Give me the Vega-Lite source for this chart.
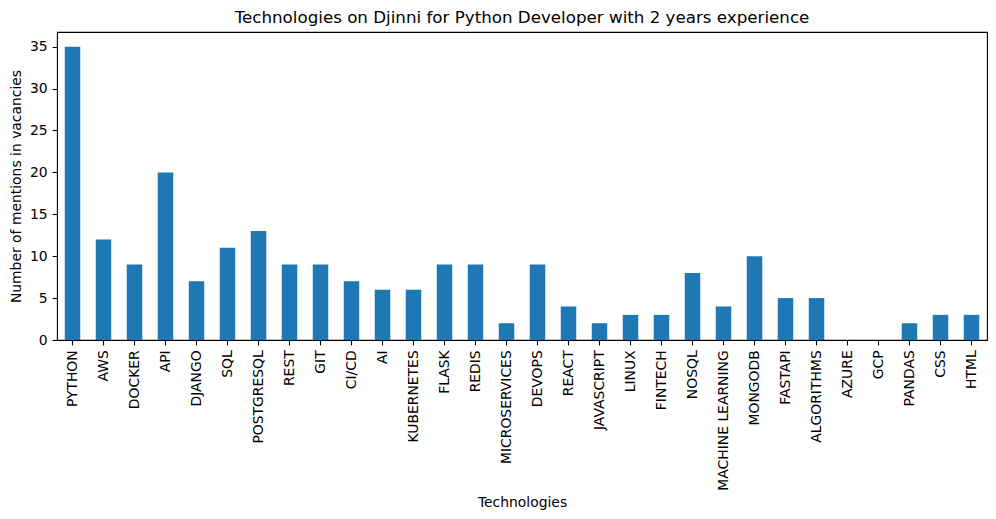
{
  "$schema": "https://vega.github.io/schema/vega-lite/v6.json",
  "autosize": "none",
  "padding": {"left": 57, "top": 32, "right": 9, "bottom": 179},
  "width": 930,
  "height": 308,
  "background": "white",
  "title": {
    "text": "Technologies on Djinni for Python Developer with 2 years experience",
    "font": "DejaVu Sans",
    "fontSize": 16.7,
    "fontWeight": "normal",
    "color": "black",
    "anchor": "middle",
    "offset": 5
  },
  "config": {
    "view": {"stroke": "black", "strokeWidth": 1.1},
    "axis": {
      "labelFont": "DejaVu Sans",
      "labelFontSize": 13.9,
      "labelColor": "black",
      "titleFont": "DejaVu Sans",
      "titleFontSize": 13.9,
      "titleFontWeight": "normal",
      "titleColor": "black",
      "tickColor": "black",
      "tickWidth": 1.1,
      "tickSize": 4.9,
      "labelPadding": 4.9,
      "domain": false,
      "grid": false
    }
  },
  "data": {
    "values": [
      {"tech": "PYTHON", "count": 35},
      {"tech": "AWS", "count": 12},
      {"tech": "DOCKER", "count": 9},
      {"tech": "API", "count": 20},
      {"tech": "DJANGO", "count": 7},
      {"tech": "SQL", "count": 11},
      {"tech": "POSTGRESQL", "count": 13},
      {"tech": "REST", "count": 9},
      {"tech": "GIT", "count": 9},
      {"tech": "CI/CD", "count": 7},
      {"tech": "AI", "count": 6},
      {"tech": "KUBERNETES", "count": 6},
      {"tech": "FLASK", "count": 9},
      {"tech": "REDIS", "count": 9},
      {"tech": "MICROSERVICES", "count": 2},
      {"tech": "DEVOPS", "count": 9},
      {"tech": "REACT", "count": 4},
      {"tech": "JAVASCRIPT", "count": 2},
      {"tech": "LINUX", "count": 3},
      {"tech": "FINTECH", "count": 3},
      {"tech": "NOSQL", "count": 8},
      {"tech": "MACHINE LEARNING", "count": 4},
      {"tech": "MONGODB", "count": 10},
      {"tech": "FASTAPI", "count": 5},
      {"tech": "ALGORITHMS", "count": 5},
      {"tech": "AZURE", "count": 0},
      {"tech": "GCP", "count": 0},
      {"tech": "PANDAS", "count": 2},
      {"tech": "CSS", "count": 3},
      {"tech": "HTML", "count": 3}
    ]
  },
  "mark": {"type": "bar", "color": "#1f77b4"},
  "encoding": {
    "x": {
      "field": "tech",
      "type": "nominal",
      "sort": null,
      "scale": {"paddingInner": 0.5, "paddingOuter": 0.25},
      "axis": {
        "title": "Technologies",
        "labelAngle": -90,
        "labelAlign": "right",
        "labelBaseline": "middle",
        "titlePadding": 5
      }
    },
    "y": {
      "field": "count",
      "type": "quantitative",
      "scale": {"domain": [0, 36.75], "nice": false},
      "axis": {
        "title": "Number of mentions in vacancies",
        "values": [0, 5, 10, 15, 20, 25, 30, 35],
        "titlePadding": 6
      }
    }
  }
}
